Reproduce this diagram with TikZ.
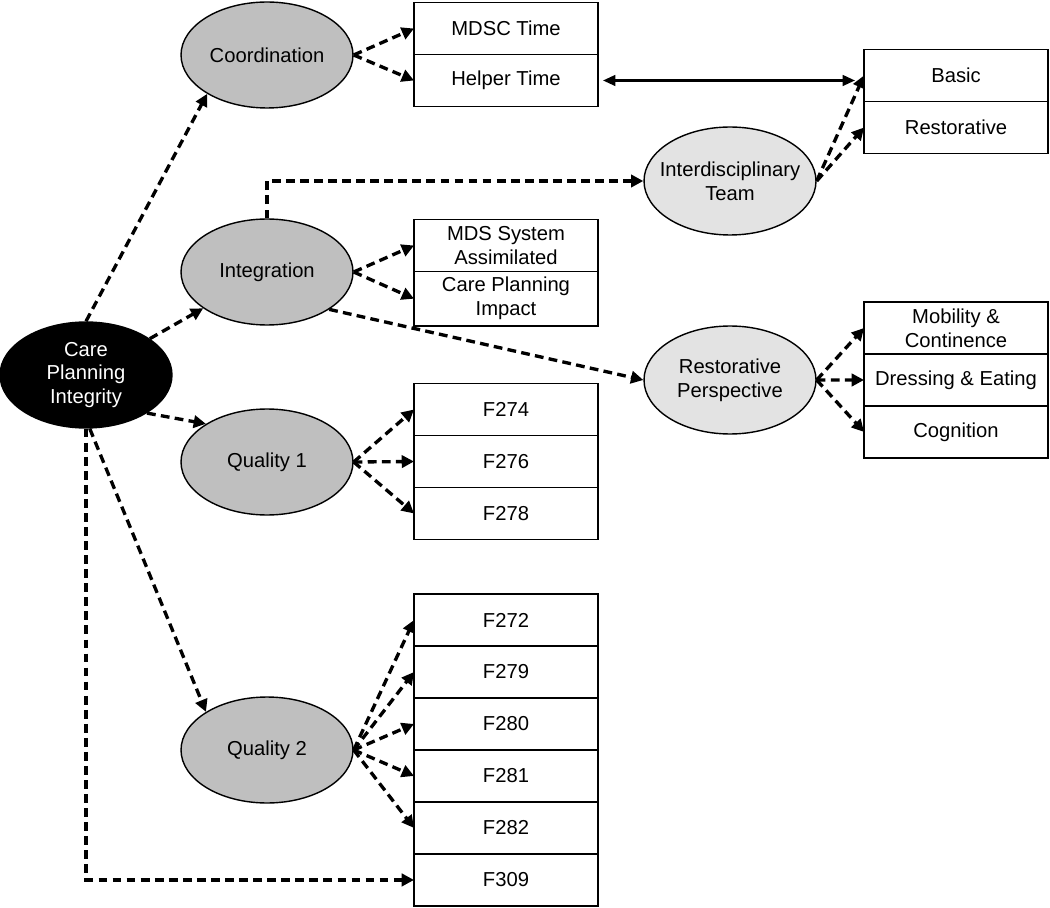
\documentclass[tikz,border=0pt]{standalone}
\usepackage{fontspec}
\setmainfont{Liberation Sans}
\usetikzlibrary{positioning,shapes.geometric,arrows.meta}
\tikzstyle{black state}=[
        draw = black,
        fill = black,
        text = white,
        line width = 0.8pt,
        ellipse,
        minimum width = 3.44cm,
        minimum height = 2.12cm,
        inner sep = 0pt,
        align = center
    ]
\tikzstyle{gray state}=[
        draw = black,
        fill = black!25,
        line width = 0.8pt,
        ellipse,
        minimum width = 3.44cm,
        minimum height = 2.12cm,
        inner sep = 0pt,
        align = center
    ]
\tikzstyle{light state}=[
        draw = black,
        fill = black!11,
        line width = 0.8pt,
        ellipse,
        minimum width = 3.44cm,
        minimum height = 2.16cm,
        inner sep = 0pt,
        align = center
    ]
\tikzstyle{item}=[
        draw = black,
        fill = white,
        line width = 0.9pt,
        rectangle,
        minimum width = 3.68cm,
        minimum height = 1.04cm,
        outer sep = 0pt,
        align = center
    ]
\tikzstyle{loading}=[
        line width = 1.9pt,
        dash pattern = on 5pt off 3pt,
        -{Triangle[length=7pt, width=7pt]}
    ]
\tikzstyle{corr}=[
        line width = 1.4pt,
        {Triangle[length=7pt, width=6pt]}-{Triangle[length=7pt, width=6pt]},
        shorten < = 0.1cm,
        shorten > = 0.18cm
    ]

\begin{document}
\begin{tikzpicture}[x=0.02cm, y=-0.02cm, font=\fontsize{11.5}{13.6}\selectfont]
        \useasboundingbox (0,0) rectangle (1050,908);

        \node[black state] (cpi) at (86,375) {Care\\Planning\\Integrity};
        \node[gray state] (coord) at (267,55) {Coordination};
        \node[gray state] (integ) at (267,272) {Integration};
        \node[gray state] (qual1) at (267,462) {Quality 1};
        \node[gray state] (qual2) at (267,750) {Quality 2};
        \node[light state, label={[align=center]center:Interdisciplinary\\Team}] (idt) at (730,181) {};
        \node[light state] (rp) at (730,380) {Restorative\\Perspective};

        \node[item] (mdsc) at (506,28.5) {MDSC Time};
        \node[item] (helper) [below = 0pt of mdsc] {Helper Time};
        \node[item] (mds) at (506,245.5) {MDS System\\Assimilated};
        \node[item] (cpimp) [below = 0pt of mds] {Care Planning\\Impact};
        \node[item] (f274) at (506,409.5) {F274};
        \node[item] (f276) [below = 0pt of f274] {F276};
        \node[item] (f278) [below = 0pt of f276] {F278};
        \node[item] (f272) at (506,620) {F272};
        \node[item] (f279) [below = 0pt of f272] {F279};
        \node[item] (f280) [below = 0pt of f279] {F280};
        \node[item] (f281) [below = 0pt of f280] {F281};
        \node[item] (f282) [below = 0pt of f281] {F282};
        \node[item] (f309) [below = 0pt of f282] {F309};
        \node[item] (basic) at (956,75.5) {Basic};
        \node[item] (restor) [below = 0pt of basic] {Restorative};
        \node[item] (mob) at (956,328) {Mobility \&\\Continence};
        \node[item] (dress) [below = 0pt of mob] {Dressing \& Eating};
        \node[item] (cog) [below = 0pt of dress] {Cognition};

        \draw[loading] (cpi.north) -- (coord.213);
        \draw[loading] (cpi) -- (integ);
        \draw[loading] (cpi.-32) -- (qual1.148);
        \draw[loading] (cpi.-86) -- (qual2.148);
        \draw[loading] (cpi.south) |- (f309.west);

        \draw[loading] (coord.east) -- (mdsc.west);
        \draw[loading] (coord.east) -- (helper.west);
        \draw[loading] (integ.east) -- (mds.west);
        \draw[loading] (integ.east) -- (cpimp.west);
        \draw[loading] (integ.north) |- (idt.west);
        \draw[loading] (integ.-31) -- (rp.west);

        \draw[loading] (qual1.east) -- (f274.west);
        \draw[loading] (qual1.east) -- (f276.west);
        \draw[loading] (qual1.east) -- (f278.west);
        \draw[loading] (qual2.east) -- (f272.west);
        \draw[loading] (qual2.east) -- (f279.west);
        \draw[loading] (qual2.east) -- (f280.west);
        \draw[loading] (qual2.east) -- (f281.west);
        \draw[loading] (qual2.east) -- (f282.west);

        \draw[loading] (idt.east) -- (basic.west);
        \draw[loading] (idt.east) -- (restor.west);
        \draw[loading] (rp.east) -- (mob.west);
        \draw[loading] (rp.east) -- (dress.west);
        \draw[loading] (rp.east) -- (cog.west);

        \draw[corr] (helper.east) -- (helper.east -| basic.west);

    \end{tikzpicture}
\end{document}
